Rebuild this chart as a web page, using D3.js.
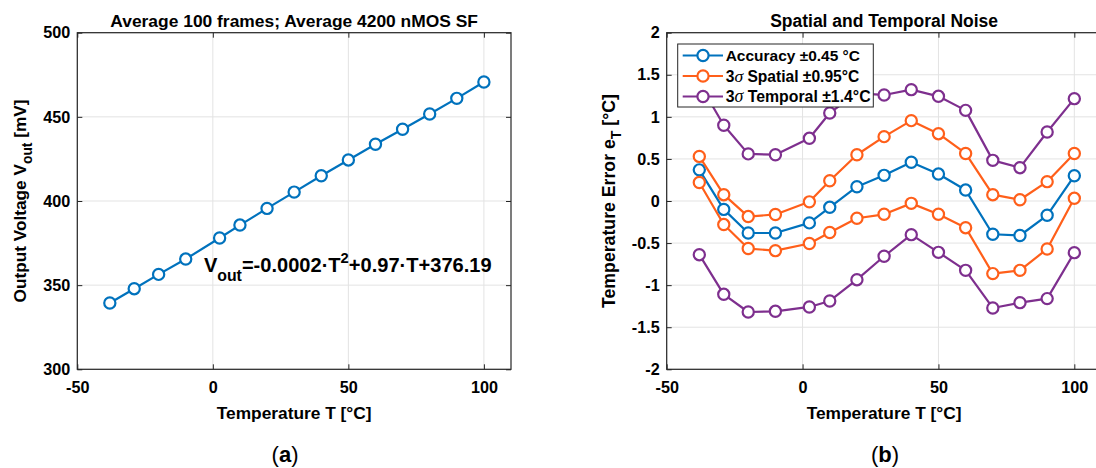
<!DOCTYPE html>
<html>
<head>
<meta charset="utf-8">
<script src="https://cdn.jsdelivr.net/npm/d3@7"></script>
<style>
  html, body { margin: 0; padding: 0; background: #fff; }
  svg { display: block; }
  text { font-family: "Liberation Sans", Arial, sans-serif; }
</style>
</head>
<body>
<svg id="chart" width="1096" height="468"></svg>
<script>
// ---------------- DATA ----------------
const temps = [-38, -29, -20, -10, 2.5, 10, 20, 30, 40, 50, 60, 70, 80, 90, 100];
const vout = [339.4, 347.9, 356.4, 365.5, 378.0, 385.7, 395.6, 405.3, 415.0, 424.4, 433.7, 442.6, 451.7, 461.0, 470.7];

const accuracy      = [0.37, -0.10, -0.38, -0.38, -0.26, -0.075, 0.17, 0.305, 0.46, 0.32, 0.13, -0.395, -0.41, -0.17, 0.30];
const spatialUpper  = [0.53, 0.075, -0.185, -0.16, -0.01, 0.24, 0.55, 0.765, 0.955, 0.80, 0.565, 0.075, 0.015, 0.23, 0.565];
const spatialLower  = [0.22, -0.28, -0.565, -0.59, -0.505, -0.375, -0.205, -0.158, -0.028, -0.158, -0.317, -0.863, -0.824, -0.57, 0.032];
const temporalUpper = [1.40, 0.90, 0.56, 0.55, 0.745, 1.046, 1.28, 1.26, 1.323, 1.244, 1.077, 0.483, 0.396, 0.82, 1.216];
const temporalLower = [-0.638, -1.109, -1.319, -1.311, -1.259, -1.188, -0.935, -0.657, -0.40, -0.61, -0.824, -1.271, -1.208, -1.16, -0.614];

const xTicks = [-50, 0, 50, 100];
const yTicksA = [300, 350, 400, 450, 500];
const yTicksB = [-2, -1.5, -1, -0.5, 0, 0.5, 1, 1.5, 2];

const titleA = "Average 100 frames; Average 4200 nMOS SF";
const titleB = "Spatial and Temporal Noise";
const xLabel = "Temperature T [°C]";
const legendLabels = [
  {pre: "", sig: "", post: "Accuracy ±0.45 °C"},
  {pre: "3", sig: "σ", post: " Spatial ±0.95°C"},
  {pre: "3", sig: "σ", post: " Temporal ±1.4°C"}
];

// ---------------- STYLE ----------------
const C_BLUE = "#0072BD", C_ORANGE = "#FF5F1A", C_PURPLE = "#7E2F8E";
const AXIS_COL = "#262626", GRID_COL = "#e3e3e3";
const TICK_FONT = 16.2;

const svg = d3.select("#chart");

// scale a text element's font (and its tspans) so its width matches a target
function fitWidth(sel, target) {
  const node = sel.node();
  const w = node.getBBox().width;
  if (!w) return;
  const k = target / w;
  const base = parseFloat(sel.attr("font-size"));
  sel.attr("font-size", base * k);
  sel.selectAll("tspan").each(function () {
    const t = d3.select(this);
    const fs = t.attr("font-size");
    if (fs) t.attr("font-size", parseFloat(fs) * k);
    const dy = t.attr("dy");
    if (dy) t.attr("dy", parseFloat(dy) * k);
  });
}

function makePanel(opts) {
  const g = svg.append("g");
  const {x, y} = opts;
  const [x0, x1] = x.range();
  const [y0, y1] = y.range(); // y0 bottom, y1 top
  const w = x1 - x0, h = y0 - y1;

  // grid
  g.append("g").selectAll("line").data(opts.xTicks).join("line")
    .attr("x1", d => x(d)).attr("x2", d => x(d))
    .attr("y1", y1).attr("y2", y0)
    .attr("stroke", GRID_COL).attr("stroke-width", 1);
  g.append("g").selectAll("line").data(opts.yTicks).join("line")
    .attr("x1", x0).attr("x2", x1)
    .attr("y1", d => y(d)).attr("y2", d => y(d))
    .attr("stroke", GRID_COL).attr("stroke-width", 1);

  // axes (ticks inside)
  const fmt = d => String(d);
  const ax = g.append("g").attr("transform", `translate(0,${y0})`)
    .call(d3.axisBottom(x).tickValues(opts.xTicks).tickSize(-5).tickPadding(12).tickFormat(fmt));
  const axTop = g.append("g").attr("transform", `translate(0,${y1})`)
    .call(d3.axisTop(x).tickValues(opts.xTicks).tickSize(-5).tickFormat(""));
  const ay = g.append("g").attr("transform", `translate(${x0},0)`)
    .call(d3.axisLeft(y).tickValues(opts.yTicks).tickSize(-5).tickPadding(7).tickFormat(fmt));
  const ayR = g.append("g").attr("transform", `translate(${x1},0)`)
    .call(d3.axisRight(y).tickValues(opts.yTicks).tickSize(-5).tickFormat(""));
  [ax, axTop, ay, ayR].forEach(a => {
    a.select(".domain").remove();
    a.selectAll(".tick line").attr("stroke", AXIS_COL);
    a.selectAll("text").attr("font-size", TICK_FONT).attr("font-weight", "bold")
      .attr("fill", "#000").attr("font-family", "Liberation Sans, Arial, sans-serif");
  });

  // box
  g.append("rect").attr("x", x0).attr("y", y1).attr("width", w).attr("height", h)
    .attr("fill", "none").attr("stroke", AXIS_COL).attr("stroke-width", 1.2);

  // title
  const tt = g.append("text").attr("x", (x0 + x1) / 2).attr("y", 26.5)
    .attr("text-anchor", "middle").attr("font-size", 15).attr("font-weight", "bold")
    .attr("fill", "#000").text(opts.title);
  fitWidth(tt, opts.titleW);

  // x label
  const xl = g.append("text").attr("x", (x0 + x1) / 2).attr("y", 419)
    .attr("text-anchor", "middle").attr("font-size", 15).attr("font-weight", "bold")
    .attr("fill", "#000").text(xLabel);
  fitWidth(xl, 155);

  // y label
  const yl = g.append("text")
    .attr("transform", `translate(${opts.yLabelX},${(y0 + y1) / 2}) rotate(-90)`)
    .attr("text-anchor", "middle").attr("font-size", 15).attr("font-weight", "bold")
    .attr("fill", "#000");
  yl.append("tspan").text(opts.yLabel[0]);
  yl.append("tspan").attr("font-size", 12).attr("dy", 5).text(opts.yLabel[1]);
  yl.append("tspan").attr("dy", -5).text(opts.yLabel[2]);
  fitWidth(yl, opts.yLabelW);

  // panel letter
  const pl = g.append("text").attr("x", opts.letterX).attr("y", 462)
    .attr("text-anchor", "middle").attr("font-size", 22)
    .attr("font-family", "Liberation Serif, 'Times New Roman', serif").attr("fill", "#000");
  pl.append("tspan").text("(");
  pl.append("tspan").attr("font-weight", "bold").text(opts.letter);
  pl.append("tspan").text(")");

  return g;
}

function drawSeries(g, x, y, xs, ys, color) {
  const line = d3.line().x((d, i) => x(xs[i])).y(d => y(d));
  g.append("path").datum(ys).attr("d", line)
    .attr("fill", "none").attr("stroke", color).attr("stroke-width", 2.2).attr("stroke-linejoin", "round");
  g.append("g").selectAll("circle").data(ys).join("circle")
    .attr("cx", (d, i) => x(xs[i])).attr("cy", d => y(d)).attr("r", 5.6)
    .attr("fill", "#fff").attr("stroke", color).attr("stroke-width", 2.2);
}

// ---------------- PANEL A ----------------
const xA = d3.scaleLinear().domain([-50, 110]).range([77.3, 511]);
const yA = d3.scaleLinear().domain([300, 500]).range([369.3, 32.7]);
const gA = makePanel({x: xA, y: yA, xTicks, yTicks: yTicksA, title: titleA, titleW: 368,
  yLabel: ["Output Voltage V", "out", " [mV]"], yLabelX: 26, yLabelW: 203, letter: "a", letterX: 285});
drawSeries(gA, xA, yA, temps, vout, C_BLUE);

// annotation
const ann = gA.append("text").attr("x", xA(-3.3)).attr("y", yA(357.6))
  .attr("font-size", 19).attr("font-weight", "bold").attr("fill", "#000");
ann.append("tspan").text("V");
ann.append("tspan").attr("font-size", 15).attr("dy", 8).text("out");
ann.append("tspan").attr("dy", -8).text("=-0.0002·T");
ann.append("tspan").attr("font-size", 14).attr("dy", -8.5).text("2");
ann.append("tspan").attr("dy", 8.5).text("+0.97·T+376.19");
fitWidth(ann, 288);

// ---------------- PANEL B ----------------
const xB = d3.scaleLinear().domain([-50, 110]).range([666.7, 1101.5]);
const yB = d3.scaleLinear().domain([-2, 2]).range([369.3, 32.7]);
const gB = makePanel({x: xB, y: yB, xTicks, yTicks: yTicksB, title: titleB, titleW: 228,
  yLabel: ["Temperature Error e", "T", " [°C]"], yLabelX: 615, yLabelW: 214, letter: "b", letterX: 885});
drawSeries(gB, xB, yB, temps, accuracy, C_BLUE);
drawSeries(gB, xB, yB, temps, spatialUpper, C_ORANGE);
drawSeries(gB, xB, yB, temps, spatialLower, C_ORANGE);
drawSeries(gB, xB, yB, temps, temporalUpper, C_PURPLE);
drawSeries(gB, xB, yB, temps, temporalLower, C_PURPLE);

// legend
const leg = gB.append("g");
leg.append("rect").attr("x", 677.7).attr("y", 44).attr("width", 195.6).attr("height", 63)
  .attr("fill", "#fff").attr("stroke", AXIS_COL).attr("stroke-width", 1);
const legColors = [C_BLUE, C_ORANGE, C_PURPLE];
const rowY = [55.5, 76, 96.5];
const rowW = [134.3, 133.7, 145];
legendLabels.forEach((lab, i) => {
  const yy = rowY[i];
  leg.append("line").attr("x1", 682.7).attr("x2", 723).attr("y1", yy).attr("y2", yy)
    .attr("stroke", legColors[i]).attr("stroke-width", 2.2);
  leg.append("circle").attr("cx", 703).attr("cy", yy).attr("r", 5.6)
    .attr("fill", "#fff").attr("stroke", legColors[i]).attr("stroke-width", 2.2);
  const t = leg.append("text").attr("x", 725.7).attr("y", yy + 5.5)
    .attr("font-size", 15.5).attr("font-weight", "bold").attr("fill", "#000");
  if (lab.pre) t.append("tspan").text(lab.pre);
  if (lab.sig) t.append("tspan").attr("font-style", "italic").attr("font-weight", "normal")
    .attr("font-family", "Liberation Serif, serif").attr("font-size", 17.5).text(lab.sig);
  t.append("tspan").text(lab.post);
  fitWidth(t, rowW[i]);
});
</script>
</body>
</html>
